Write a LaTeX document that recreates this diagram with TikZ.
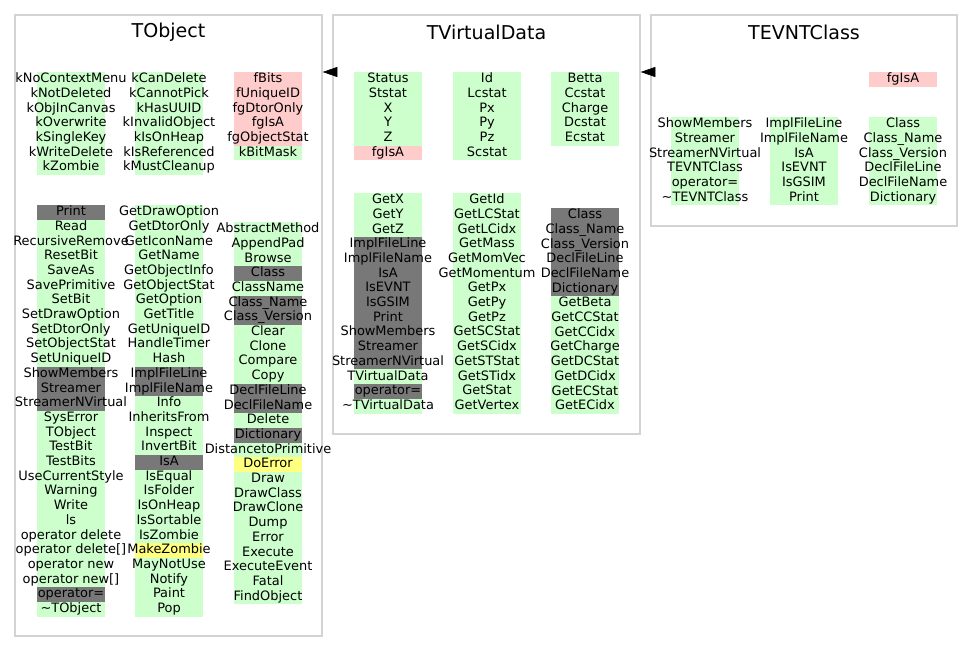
\documentclass[tikz,border=0pt]{standalone}
\usepackage{fontspec}
\setmainfont{DejaVu Sans}
\usetikzlibrary{arrows.meta,fit}
\definecolor{memg}{HTML}{CCFFCC}
\definecolor{memr}{HTML}{FFCCCC}
\definecolor{memk}{HTML}{787878}
\definecolor{memy}{HTML}{FFFF80}
\definecolor{boxgray}{HTML}{D3D3D3}
\tikzset{
  clsbox/.style={draw=boxgray, line width=1pt, inner sep=0pt},
  mem/.style={inner sep=0pt, font=\fontsize{9.7}{11}\selectfont, text height=7pt, text depth=2pt},
  clstitle/.style={font=\fontsize{14.3}{16}\selectfont},
  inh/.style={-{Triangle[length=11pt,width=7.5pt]}, line width=0.5pt}
}
% one column of members: name, left x, top y, list of colour/text
\newcommand{\memcol}[4]{%
  \foreach \c/\t [count=\i] in {#4} {
    \fill[\c] (#2,#3+\i*14.7-14.7) rectangle ++(68,14.7);
    \node[mem] (#1\i) at (#2+34,#3+\i*14.7-7.35) {\t};
  }}
\begin{document}
\begin{tikzpicture}[x=0.75pt,y=-0.75pt]
	\path[fill=white] (0,0) rectangle (973,653);
	\useasboundingbox (0,0) rectangle (973,653);
	% classes
	\node[clsbox, fit={(15,15) (322,636)}] (tobj) {};
	\node[clsbox, fit={(333,15) (640,434)}] (tvd) {};
	\node[clsbox, fit={(651,15) (957,226)}] (tevnt) {};
	\node[clstitle] (tobj-t) at (168.5,32) {TObject};
	\node[clstitle] (tvd-t) at (486.5,32) {TVirtualData};
	\node[clstitle] (tevnt-t) at (804,32) {TEVNTClass};
	\coordinate (a1) at (0,72);
	\draw[inh] (tvd.west |- a1) -- (tobj.east |- a1);
	\draw[inh] (tevnt.west |- a1) -- (tvd.east |- a1);
	% TObject
	\memcol{od1-}{37}{72}{memg/kNoContextMenu, memg/kNotDeleted, memg/kObjInCanvas, memg/kOverwrite, memg/kSingleKey, memg/kWriteDelete, memg/kZombie}
	\memcol{od2-}{135}{72}{memg/kCanDelete, memg/kCannotPick, memg/kHasUUID, memg/kInvalidObject, memg/kIsOnHeap, memg/kIsReferenced, memg/kMustCleanup}
	\memcol{od3-}{234}{72}{memr/fBits, memr/fUniqueID, memr/fgDtorOnly, memr/fgIsA, memr/fgObjectStat, memg/kBitMask}
	\memcol{om1-}{37}{205}{memk/Print, memg/Read, memg/RecursiveRemove, memg/ResetBit, memg/SaveAs, memg/SavePrimitive, memg/SetBit, memg/SetDrawOption, memg/SetDtorOnly, memg/SetObjectStat, memg/SetUniqueID, memk/ShowMembers, memk/Streamer, memk/StreamerNVirtual, memg/SysError, memg/TObject, memg/TestBit, memg/TestBits, memg/UseCurrentStyle, memg/Warning, memg/Write, memg/ls, memg/operator delete, memg/operator delete[], memg/operator new, memg/operator new[], memk/operator=, memg/\textasciitilde TObject}
	\memcol{om2-}{135}{205}{memg/GetDrawOption, memg/GetDtorOnly, memg/GetIconName, memg/GetName, memg/GetObjectInfo, memg/GetObjectStat, memg/GetOption, memg/GetTitle, memg/GetUniqueID, memg/HandleTimer, memg/Hash, memk/ImplFileLine, memk/ImplFileName, memg/Info, memg/InheritsFrom, memg/Inspect, memg/InvertBit, memk/IsA, memg/IsEqual, memg/IsFolder, memg/IsOnHeap, memg/IsSortable, memg/IsZombie, memy/MakeZombie, memg/MayNotUse, memg/Notify, memg/Paint, memg/Pop}
	\memcol{om3-}{234}{222}{memg/AbstractMethod, memg/AppendPad, memg/Browse, memk/Class, memg/ClassName, memk/Class\_Name, memk/Class\_Version, memg/Clear, memg/Clone, memg/Compare, memg/Copy, memk/DeclFileLine, memk/DeclFileName, memg/Delete, memk/Dictionary, memg/DistancetoPrimitive, memy/DoError, memg/Draw, memg/DrawClass, memg/DrawClone, memg/Dump, memg/Error, memg/Execute, memg/ExecuteEvent, memg/Fatal, memg/FindObject}
	% TVirtualData
	\memcol{vd1-}{354}{72}{memg/Status, memg/Ststat, memg/X, memg/Y, memg/Z, memr/fgIsA}
	\memcol{vd2-}{453}{72}{memg/Id, memg/Lcstat, memg/Px, memg/Py, memg/Pz, memg/Scstat}
	\memcol{vd3-}{551}{72}{memg/Betta, memg/Ccstat, memg/Charge, memg/Dcstat, memg/Ecstat}
	\memcol{vm1-}{354}{193}{memg/GetX, memg/GetY, memg/GetZ, memk/ImplFileLine, memk/ImplFileName, memk/IsA, memk/IsEVNT, memk/IsGSIM, memk/Print, memk/ShowMembers, memk/Streamer, memk/StreamerNVirtual, memg/TVirtualData, memk/operator=, memg/\textasciitilde TVirtualData}
	\memcol{vm2-}{453}{193}{memg/GetId, memg/GetLCStat, memg/GetLCidx, memg/GetMass, memg/GetMomVec, memg/GetMomentum, memg/GetPx, memg/GetPy, memg/GetPz, memg/GetSCStat, memg/GetSCidx, memg/GetSTStat, memg/GetSTidx, memg/GetStat, memg/GetVertex}
	\memcol{vm3-}{551}{208}{memk/Class, memk/Class\_Name, memk/Class\_Version, memk/DeclFileLine, memk/DeclFileName, memk/Dictionary, memg/GetBeta, memg/GetCCStat, memg/GetCCidx, memg/GetCharge, memg/GetDCStat, memg/GetDCidx, memg/GetECStat, memg/GetECidx}
	% TEVNTClass
	\memcol{ed3-}{869}{72}{memr/fgIsA}
	\memcol{em1-}{671}{117}{memg/ShowMembers, memg/Streamer, memg/StreamerNVirtual, memg/TEVNTClass, memg/operator=, memg/\textasciitilde TEVNTClass}
	\memcol{em2-}{770}{117}{memg/ImplFileLine, memg/ImplFileName, memg/IsA, memg/IsEVNT, memg/IsGSIM, memg/Print}
	\memcol{em3-}{869}{117}{memg/Class, memg/Class\_Name, memg/Class\_Version, memg/DeclFileLine, memg/DeclFileName, memg/Dictionary}
\end{tikzpicture}
\end{document}
